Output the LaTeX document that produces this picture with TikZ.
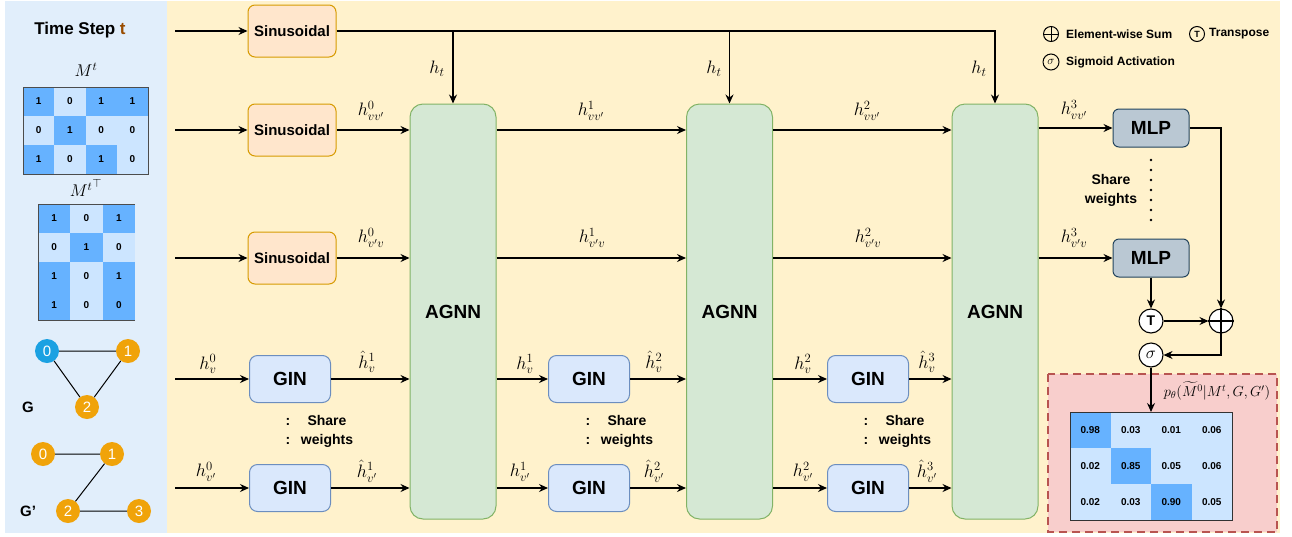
\RequirePackage{fix-cm}
\documentclass[tikz,border=0pt]{standalone}
\usepackage{fontspec}
\setsansfont{Liberation Sans}
\usepackage{amsmath,amssymb}
\usetikzlibrary{arrows.meta,calc}
\definecolor{leftbg}{HTML}{E1EEFB}
\definecolor{yelbg}{HTML}{FFF2CC}
\definecolor{sinF}{HTML}{FFE6CC}
\definecolor{sinS}{HTML}{D79B00}
\definecolor{agF}{HTML}{D5E8D4}
\definecolor{agS}{HTML}{82B366}
\definecolor{ginF}{HTML}{DAE8FC}
\definecolor{ginS}{HTML}{6C8EBF}
\definecolor{mlpF}{HTML}{BAC8D3}
\definecolor{mlpS}{HTML}{23445D}
\definecolor{redF}{HTML}{F8CECC}
\definecolor{redS}{HTML}{B85450}
\definecolor{dk}{HTML}{66B2FF}
\definecolor{lt}{HTML}{CCE5FF}
\definecolor{gblue}{HTML}{1BA1E2}
\definecolor{gorange}{HTML}{F0A30A}
\definecolor{tbrown}{HTML}{994C00}
\begin{document}
\begin{tikzpicture}[x=1pt,y=-1pt,
  ln/.style={draw=black,line width=1.2pt},
  arr/.style={draw=black,line width=1.2pt,-{Stealth[length=9pt,width=8pt,inset=3pt]}},
  sinbox/.style={draw=sinS,fill=sinF,rounded corners=7pt,minimum width=88pt,minimum height=52pt,line width=1pt,inner sep=0pt,font=\sffamily\bfseries\fontsize{15}{18}\selectfont},
  agnnbox/.style={draw=agS,fill=agF,rounded corners=13pt,minimum width=86pt,minimum height=415pt,line width=1pt,inner sep=0pt,font=\sffamily\bfseries\fontsize{19}{22}\selectfont},
  ginbox/.style={draw=ginS,fill=ginF,rounded corners=8pt,minimum width=81pt,minimum height=47pt,line width=1pt,inner sep=0pt,font=\sffamily\bfseries\fontsize{19}{22}\selectfont},
  mlpbox/.style={draw=mlpS,fill=mlpF,rounded corners=6pt,minimum width=76pt,minimum height=38pt,line width=1pt,inner sep=0pt,font=\sffamily\bfseries\fontsize{19}{22}\selectfont},
  opc/.style={circle,draw=black,line width=1.1pt,fill=white,minimum size=24pt,inner sep=0pt},
  lbl/.style={inner sep=0pt,font=\fontsize{18}{21}\selectfont},
  sw/.style={align=center,inner sep=0pt,font=\sffamily\bfseries\fontsize{14}{19}\selectfont},
  cell/.style={inner sep=0pt,draw=none,font=\sffamily\bfseries\fontsize{10}{12}\selectfont},
  gnode/.style={circle,minimum size=24pt,inner sep=0pt,text=white,font=\sffamily\fontsize{15}{16}\selectfont},
  legtxt/.style={anchor=west,inner sep=0pt,font=\sffamily\bfseries\fontsize{12}{14}\selectfont}
]
\useasboundingbox (0,0) rectangle (1292,536);
\fill[white] (0,0) rectangle (1292,536);
% panels
\fill[leftbg] (5,1) rectangle (167,533);
\fill[yelbg] (167,1) rectangle (1280,533);
\draw[redS,fill=redF,line width=1.2pt,dash pattern=on 8pt off 5pt] (1048,374) rectangle (1277,532);

% left panel
\node[inner sep=0pt,font=\sffamily\bfseries\fontsize{17}{20}\selectfont] (title) at (80,30) {Time Step \textcolor{tbrown}{t}};
\node[lbl,font=\fontsize{17}{20}\selectfont] (mtlab) at (86,70) {$M^t$};
\node[lbl,font=\fontsize{17}{20}\selectfont] (mttlab) at (86,188) {${M^t}^{\top}$};
\foreach \r/\c/\v/\col in {1/1/1/dk,1/2/0/lt,1/3/1/dk,1/4/1/dk,
                           2/1/0/lt,2/2/1/dk,2/3/0/lt,2/4/0/lt,
                           3/1/1/dk,3/2/0/lt,3/3/1/dk,3/4/0/lt}
  \node[cell,fill=\col,minimum width=31.25pt,minimum height=29pt] (mt\r\c) at ({23+(\c-0.5)*31.25},{87+(\r-0.5)*29}) {\v};
\draw[black!70,line width=1pt] (23,87) rectangle (148,174);
\foreach \r/\c/\v/\col in {1/1/1/dk,1/2/0/lt,1/3/1/dk,
                           2/1/0/lt,2/2/1/dk,2/3/0/lt,
                           3/1/1/dk,3/2/0/lt,3/3/1/dk,
                           4/1/1/dk,4/2/0/lt,4/3/0/dk}
  \node[cell,fill=\col,minimum width=32.33pt,minimum height=29pt] (mtt\r\c) at ({38+(\c-0.5)*32.33},{204+(\r-0.5)*29}) {\v};
\draw[black!70,line width=1pt] (135,204) -- (38,204) -- (38,320) -- (135,320);

% graphs
\node[gnode,fill=gblue] (g0) at (47,351) {0};
\node[gnode,fill=gorange] (g1) at (128,351) {1};
\node[gnode,fill=gorange] (g2) at (87,407) {2};
\draw[line width=1pt] (g0) -- (g1) (g0) -- (g2) (g1) -- (g2);
\node[inner sep=0pt,font=\sffamily\bfseries\fontsize{15}{18}\selectfont] (glab) at (28,407) {G};
\node[gnode,fill=gorange] (h0) at (43,454) {0};
\node[gnode,fill=gorange] (h1) at (112,454) {1};
\node[gnode,fill=gorange] (h2) at (68,511) {2};
\node[gnode,fill=gorange] (h3) at (139,511) {3};
\draw[line width=1pt] (h0) -- (h1) (h1) -- (h2) (h2) -- (h3);
\node[inner sep=0pt,font=\sffamily\bfseries\fontsize{15}{18}\selectfont] (hlab) at (28,511) {G'};

% main boxes
\node[sinbox] (sin1) at (292,31) {Sinusoidal};
\node[sinbox] (sin2) at (292,130) {Sinusoidal};
\node[sinbox] (sin3) at (292,258) {Sinusoidal};
\node[agnnbox] (agnn1) at (453,311.5) {AGNN};
\node[agnnbox] (agnn2) at (729.5,311.5) {AGNN};
\node[agnnbox] (agnn3) at (995,311.5) {AGNN};
\node[ginbox] (gin1a) at (290,379) {GIN};
\node[ginbox] (gin1b) at (290,488) {GIN};
\node[ginbox] (gin2a) at (589,379) {GIN};
\node[ginbox] (gin2b) at (589,488) {GIN};
\node[ginbox] (gin3a) at (868,379) {GIN};
\node[ginbox] (gin3b) at (868,488) {GIN};
\node[mlpbox] (mlp1) at (1151,128) {MLP};
\node[mlpbox] (mlp2) at (1151,258) {MLP};
\node[opc,font=\sffamily\bfseries\fontsize{14}{16}\selectfont] (tr) at (1151,321) {T};
\node[opc] (plus) at (1221,321) {};
\draw[line width=1.1pt] (plus.north) -- (plus.south) (plus.west) -- (plus.east);
\node[opc,font=\fontsize{17}{18}\selectfont] (sig) at (1151,355) {$\sigma$};

% entry coordinates
\coordinate (e1) at (175,31);
\coordinate (e2) at (175,130);
\coordinate (e3) at (175,258);
\coordinate (e4) at (175,379);
\coordinate (e5) at (175,488);
\draw[arr] (e1) -- (sin1.west);
\draw[arr] (e2) -- (sin2.west);
\draw[arr] (e3) -- (sin3.west);
\draw[arr] (e4) -- (gin1a.west);
\draw[arr] (e5) -- (gin1b.west);

% time embedding
\draw[arr] (sin1.east) -| (agnn3.north);
\draw[arr] (agnn1.north |- sin1.east) -- (agnn1.north);
\draw[arr] (agnn2.north |- sin1.east) -- (agnn2.north);
\node[lbl] (ht1) at (437,69) {$h_t$};
\node[lbl] (ht2) at (714,69) {$h_t$};
\node[lbl] (ht3) at (979,69) {$h_t$};

% edge rows
\draw[arr] (sin2.east) -- (sin2.east -| agnn1.west);
\draw[arr] (agnn1.east |- sin2) -- (agnn2.west |- sin2);
\draw[arr] (agnn2.east |- sin2) -- (agnn3.west |- sin2);
\draw[arr] (agnn3.east |- mlp1) -- (mlp1.west);
\draw[arr] (sin3.east) -- (sin3.east -| agnn1.west);
\draw[arr] (agnn1.east |- sin3) -- (agnn2.west |- sin3);
\draw[arr] (agnn2.east |- sin3) -- (agnn3.west |- sin3);
\draw[arr] (agnn3.east |- mlp2) -- (mlp2.west);
\node[lbl] (l01) at (371,111) {$h^{0}_{vv'}$};
\node[lbl] (l11) at (591,111) {$h^{1}_{vv'}$};
\node[lbl] (l21) at (867,111) {$h^{2}_{vv'}$};
\node[lbl] (l31) at (1074,110) {$h^{3}_{vv'}$};
\node[lbl] (l02) at (371,238) {$h^{0}_{v'v}$};
\node[lbl] (l12) at (592,238) {$h^{1}_{v'v}$};
\node[lbl] (l22) at (868,238) {$h^{2}_{v'v}$};
\node[lbl] (l32) at (1074,238) {$h^{3}_{v'v}$};

% node rows
\draw[arr] (gin1a.east) -- (gin1a.east -| agnn1.west);
\draw[arr] (agnn1.east |- gin2a) -- (gin2a.west);
\draw[arr] (gin2a.east) -- (gin2a.east -| agnn2.west);
\draw[arr] (agnn2.east |- gin3a) -- (gin3a.west);
\draw[arr] (gin3a.east) -- (gin3a.east -| agnn3.west);
\draw[arr] (gin1b.east) -- (gin1b.east -| agnn1.west);
\draw[arr] (agnn1.east |- gin2b) -- (gin2b.west);
\draw[arr] (gin2b.east) -- (gin2b.east -| agnn2.west);
\draw[arr] (agnn2.east |- gin3b) -- (gin3b.west);
\draw[arr] (gin3b.east) -- (gin3b.east -| agnn3.west);
\node[lbl] (v0) at (208,364) {$h^{0}_{v}$};
\node[lbl] (v1h) at (367,362) {$\hat{h}^{1}_{v}$};
\node[lbl] (v1) at (525,364) {$h^{1}_{v}$};
\node[lbl] (v2h) at (654,362) {$\hat{h}^{2}_{v}$};
\node[lbl] (v2) at (803,364) {$h^{2}_{v}$};
\node[lbl] (v3h) at (927,362) {$\hat{h}^{3}_{v}$};
\node[lbl] (w0) at (206,472) {$h^{0}_{v'}$};
\node[lbl] (w1h) at (367,471) {$\hat{h}^{1}_{v'}$};
\node[lbl] (w1) at (520,472) {$h^{1}_{v'}$};
\node[lbl] (w2h) at (654,471) {$\hat{h}^{2}_{v'}$};
\node[lbl] (w2) at (803,472) {$h^{2}_{v'}$};
\node[lbl] (w3h) at (927,471) {$\hat{h}^{3}_{v'}$};

% share weights
\node[sw] (sw1) at (327,431) {Share\\weights};
\node[sw] (sd1) at (288,431) {:\\:};
\node[sw] (sw2) at (627,431) {Share\\weights};
\node[sw] (sd2) at (588,431) {:\\:};
\node[sw] (sw3) at (905,431) {Share\\weights};
\node[sw] (sd3) at (866,431) {:\\:};
\node[sw] (sw4) at (1111,190) {Share\\weights};
\foreach \k in {0,...,6} \fill (1151,{160+\k*10}) circle (1.3pt);

% output head
\draw[arr] (mlp1.east) -| (plus.north);
\draw[arr] (mlp2.south) -- (tr.north);
\draw[arr] (tr.east) -- (plus.west);
\draw[arr] (plus.south) |- (sig.east);
\coordinate (ptop) at (1151,412);
\draw[arr] (sig.south) -- (ptop);
\node[lbl,font=\fontsize{14.5}{17}\selectfont] (plab) at (1217,391) {$p_{\theta}(\widetilde{M}^{0}|M^{t},G,G')$};
\foreach \r/\c/\v/\col in {1/1/0.98/dk,1/2/0.03/lt,1/3/0.01/lt,1/4/0.06/lt,
                           2/1/0.02/lt,2/2/0.85/dk,2/3/0.05/lt,2/4/0.06/lt,
                           3/1/0.02/lt,3/2/0.03/lt,3/3/0.90/dk,3/4/0.05/lt}
  \node[cell,fill=\col,minimum width=40.5pt,minimum height=36pt] (p\r\c) at ({1070+(\c-0.5)*40.5},{412+(\r-0.5)*36}) {\v};
\draw[black!80,line width=1pt] (1070,412) rectangle (1232,520);

% legend
\node[circle,draw=black,line width=1pt,minimum size=15pt,inner sep=0pt] (lgplus) at (1051,34) {};
\draw[line width=1pt] (lgplus.north) -- (lgplus.south) (lgplus.west) -- (lgplus.east);
\node[legtxt] (lgt1) at (1066,34) {Element-wise Sum};
\node[circle,draw=black,line width=1pt,minimum size=15pt,inner sep=0pt,font=\sffamily\bfseries\fontsize{9}{10}\selectfont] (lgT) at (1197,34) {T};
\node[legtxt] (lgt2) at (1209,34) {Transpose};
\node[circle,draw=black,line width=1pt,minimum size=16pt,inner sep=0pt,font=\fontsize{12}{13}\selectfont] (lgS) at (1051,62) {$\sigma$};
\node[legtxt] (lgt3) at (1066,62) {Sigmoid Activation};
\end{tikzpicture}
\end{document}
